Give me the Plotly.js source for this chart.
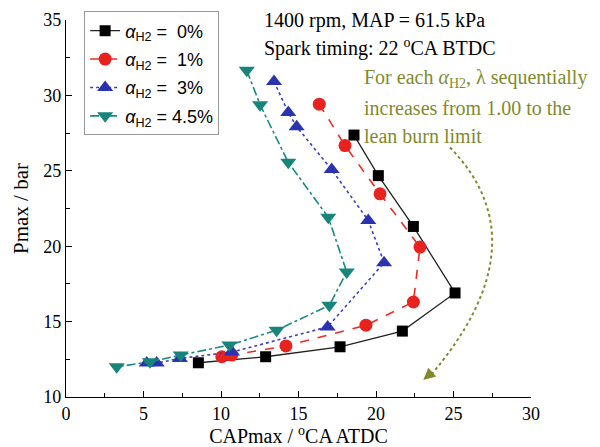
<!DOCTYPE html>
<html>
<head>
<meta charset="utf-8">
<script src="https://cdn.plot.ly/plotly-3.0.1.min.js"></script>
<style>html,body{margin:0;padding:0;background:#fff;}#chart{width:600px;height:447px;}</style>
</head>
<body>
<div id="chart"></div>
<script>
// Series names
const seriesNames = ['<i>α</i><sub>H2</sub> =  0%', '<i>α</i><sub>H2</sub> =  1%', '<i>α</i><sub>H2</sub> =  3%', '<i>α</i><sub>H2</sub> = 4.5%'];

// alpha_H2 = 0%
const cap0 = [18.58, 20.15, 22.41, 25.10, 21.70, 17.68, 12.88, 8.54];
const pmax0 = [27.37, 24.68, 21.31, 16.90, 14.37, 13.33, 12.67, 12.27];

// alpha_H2 = 1%
const cap1 = [16.34, 18.00, 20.26, 22.84, 22.41, 19.35, 14.19, 10.69, 10.05];
const pmax1 = [29.42, 26.67, 23.47, 19.94, 16.30, 14.76, 13.39, 12.78, 12.67];

// alpha_H2 = 3%
const cap3 = [13.42, 14.34, 14.88, 17.14, 19.50, 20.52, 16.88, 10.71, 7.35, 5.85, 5.21];
const pmax3 = [30.92, 28.87, 27.92, 25.08, 21.71, 18.91, 14.65, 12.98, 12.56, 12.25, 12.25];

// alpha_H2 = 4.5%
const cap45 = [11.66, 12.52, 14.34, 16.92, 18.11, 16.99, 13.59, 10.54, 7.40, 5.42, 3.27];
const pmax45 = [31.67, 29.38, 25.56, 21.92, 18.29, 16.08, 14.43, 13.44, 12.78, 12.33, 12.00];

const xTicks = [0, 5, 10, 15, 20, 25, 30];
const yTicks = [10, 15, 20, 25, 30, 35];

const serif = 'Liberation Serif, Times New Roman, serif';
const sans = 'Liberation Sans, Arial, sans-serif';
const olive = '#7f8a2c';

const traces = [
  {x: cap0, y: pmax0, name: seriesNames[0], legendgroup: 'a', mode: 'lines+markers',
   line: {color: '#222222', width: 1.3, dash: 'solid'},
   marker: {symbol: 'square', size: 11, color: '#000000'}},
  {x: cap1, y: pmax1, name: seriesNames[1], legendgroup: 'b', mode: 'lines+markers',
   line: {color: '#ee2a24', width: 1.6, dash: 'dash'},
   marker: {symbol: 'circle', size: 13, color: '#e8221e'}},
  {x: cap3, y: pmax3, name: seriesNames[2], legendgroup: 'c', mode: 'lines+markers',
   line: {color: '#3a40c0', width: 1.6, dash: 'dot'},
   marker: {symbol: 'triangle-up', size: 14, color: '#2b33b0'}},
  {x: cap45, y: pmax45, name: seriesNames[3], legendgroup: 'd', mode: 'lines+markers',
   line: {color: '#1a8a80', width: 1.6, dash: 'dashdot'},
   marker: {symbol: 'triangle-down', size: 14, color: '#18857b'}}
];

const layout = {
  width: 600, height: 447,
  margin: {l: 66, r: 69, t: 19, b: 50},
  paper_bgcolor: '#ffffff', plot_bgcolor: '#ffffff',
  showlegend: true,
  legend: {x: 0.039, y: 1.02, xanchor: 'left', yanchor: 'top',
    bgcolor: '#ffffff', bordercolor: '#999999', borderwidth: 1,
    font: {family: sans, size: 18, color: '#000'}, tracegroupgap: 2},
  xaxis: {range: [0, 30], tickvals: xTicks, ticks: 'inside', ticklen: 6,
    tickcolor: '#000', showline: true, linecolor: '#000', linewidth: 1.2,
    showgrid: false, zeroline: false, mirror: false,
    minor: {dtick: 2.5, ticks: 'inside', ticklen: 4, tickcolor: '#000', showgrid: false},
    tickfont: {family: serif, size: 18, color: '#000'},
    title: {text: 'CAPmax / <sup>o</sup>CA ATDC', font: {family: serif, size: 20, color: '#000'}, standoff: 6}},
  yaxis: {range: [10, 35], tickvals: yTicks, ticks: 'inside', ticklen: 6,
    tickcolor: '#000', showline: true, linecolor: '#000', linewidth: 1.2,
    showgrid: false, zeroline: false, mirror: false,
    minor: {dtick: 2.5, ticks: 'inside', ticklen: 4, tickcolor: '#000', showgrid: false},
    tickfont: {family: serif, size: 18, color: '#000'},
    title: {text: 'Pmax / bar', font: {family: serif, size: 21, color: '#000'}, standoff: 8}},
  annotations: [
    {xref: 'x', yref: 'y', x: 12.65, y: 35.0, xanchor: 'left', yanchor: 'middle', showarrow: false,
     text: '1400 rpm, MAP = 61.5 kPa', font: {family: serif, size: 20, color: '#000'}},
    {xref: 'x', yref: 'y', x: 12.65, y: 33.2, xanchor: 'left', yanchor: 'middle', showarrow: false,
     text: 'Spark timing: 22 <sup>o</sup>CA BTDC', font: {family: serif, size: 20, color: '#000'}},
    {xref: 'x', yref: 'y', x: 19.1, y: 31.1, xanchor: 'left', yanchor: 'middle', showarrow: false,
     text: 'For each <i>α</i><sub>H2</sub>, λ sequentially', font: {family: serif, size: 20, color: olive}},
    {xref: 'x', yref: 'y', x: 19.1, y: 29.18, xanchor: 'left', yanchor: 'middle', showarrow: false,
     text: 'increases from 1.00 to the', font: {family: serif, size: 20, color: olive}},
    {xref: 'x', yref: 'y', x: 19.1, y: 27.33, xanchor: 'left', yanchor: 'middle', showarrow: false,
     text: 'lean burn limit', font: {family: serif, size: 20, color: olive}},
    {xref: 'x', yref: 'y', x: 23.05, y: 11.12, ax: 9, ay: -8, showarrow: true, text: '',
     arrowhead: 2, arrowsize: 1.6, arrowwidth: 1.5, arrowcolor: olive}
  ],
  shapes: [
    {type: 'path', xref: 'x', yref: 'y', path: 'M 24.77 26.55 Q 30.79 20.2 23.5 11.4',
     line: {color: olive, width: 2, dash: 'dot'}}
  ]
};

Plotly.newPlot('chart', traces, layout, {displayModeBar: false, staticPlot: true});
</script>
</body>
</html>
